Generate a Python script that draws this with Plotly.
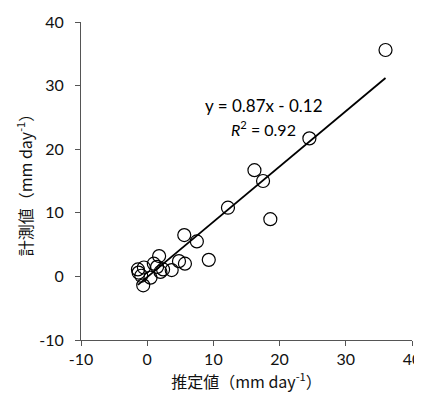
import numpy as np
import plotly.graph_objects as go

# Estimated (x) and measured (y) values, mm/day
estimated = [36.0, 24.5, 16.2, 17.5, 18.6, 12.2, 5.6, 7.5, 9.3, 5.7, 4.8, 3.7,
             1.8, 1.0, 2.0, 0.5, -0.6, -0.9, -1.3, -1.4, -0.5, 2.4, 1.5]
measured = [35.6, 21.7, 16.7, 15.0, 9.0, 10.8, 6.5, 5.5, 2.6, 2.0, 2.4, 1.0,
            3.2, 2.0, 0.7, -0.2, -1.4, 0.1, 0.6, 1.1, 1.4, 1.1, 1.5]

slope = 0.87
intercept = -0.12
r2 = 0.92

tick_vals = [-10, 0, 10, 20, 30, 40]
tick_text = ["-10", "0", "10", "20", "30", "40"]

num_font = "Lato, Noto Sans CJK JP, sans-serif"
jp_font = "Noto Sans CJK JP, Lato, sans-serif"

x_line = np.array([min(estimated), max(estimated)])
y_line = slope * x_line + intercept

fig = go.Figure()
fig.add_trace(go.Scatter(
    x=x_line, y=y_line, mode="lines",
    line=dict(color="black", width=1.8), showlegend=False, hoverinfo="skip"))
fig.add_trace(go.Scatter(
    x=estimated, y=measured, mode="markers",
    marker=dict(symbol="circle-open", size=13, color="black", line=dict(width=1.2)),
    showlegend=False))

fig.add_annotation(
    x=17.7, y=26.8, xref="x", yref="y",
    text=f"y = {slope}x - {abs(intercept)}",
    showarrow=False, xanchor="center", yanchor="middle",
    font=dict(family=num_font, size=17, color="black"))
fig.add_annotation(
    x=17.6, y=23.3, xref="x", yref="y",
    text=f"<i>R</i><sup>2</sup> = {r2}",
    showarrow=False, xanchor="center", yanchor="middle",
    font=dict(family=num_font, size=16, color="black"))

axis_common = dict(
    range=[-10, 40], tickvals=tick_vals, ticktext=tick_text,
    showgrid=False, zeroline=False, automargin=False,
    showline=True, linecolor="#555555", linewidth=1,
    ticks="outside", ticklen=5, tickcolor="#555555", tickwidth=1,
    tickfont=dict(family=num_font, size=16, color="#111111"),
)

# page body has an 8px margin, so the figure is sized to fill the window
fig.update_layout(
    width=414, height=395,
    margin=dict(l=73, r=10, t=14, b=63),
    plot_bgcolor="white", paper_bgcolor="white",
    xaxis=dict(**axis_common,
               title=dict(text="推定値（mm day<sup>-1</sup>）", standoff=9,
                          font=dict(family=jp_font, size=16, color="#111111"))),
    yaxis=dict(**axis_common, ticklabelstandoff=8,
               title=dict(text="計測値（mm day<sup>-1</sup>）", standoff=2,
                          font=dict(family=jp_font, size=16, color="#111111"))),
)

fig.write_html("out.html")
